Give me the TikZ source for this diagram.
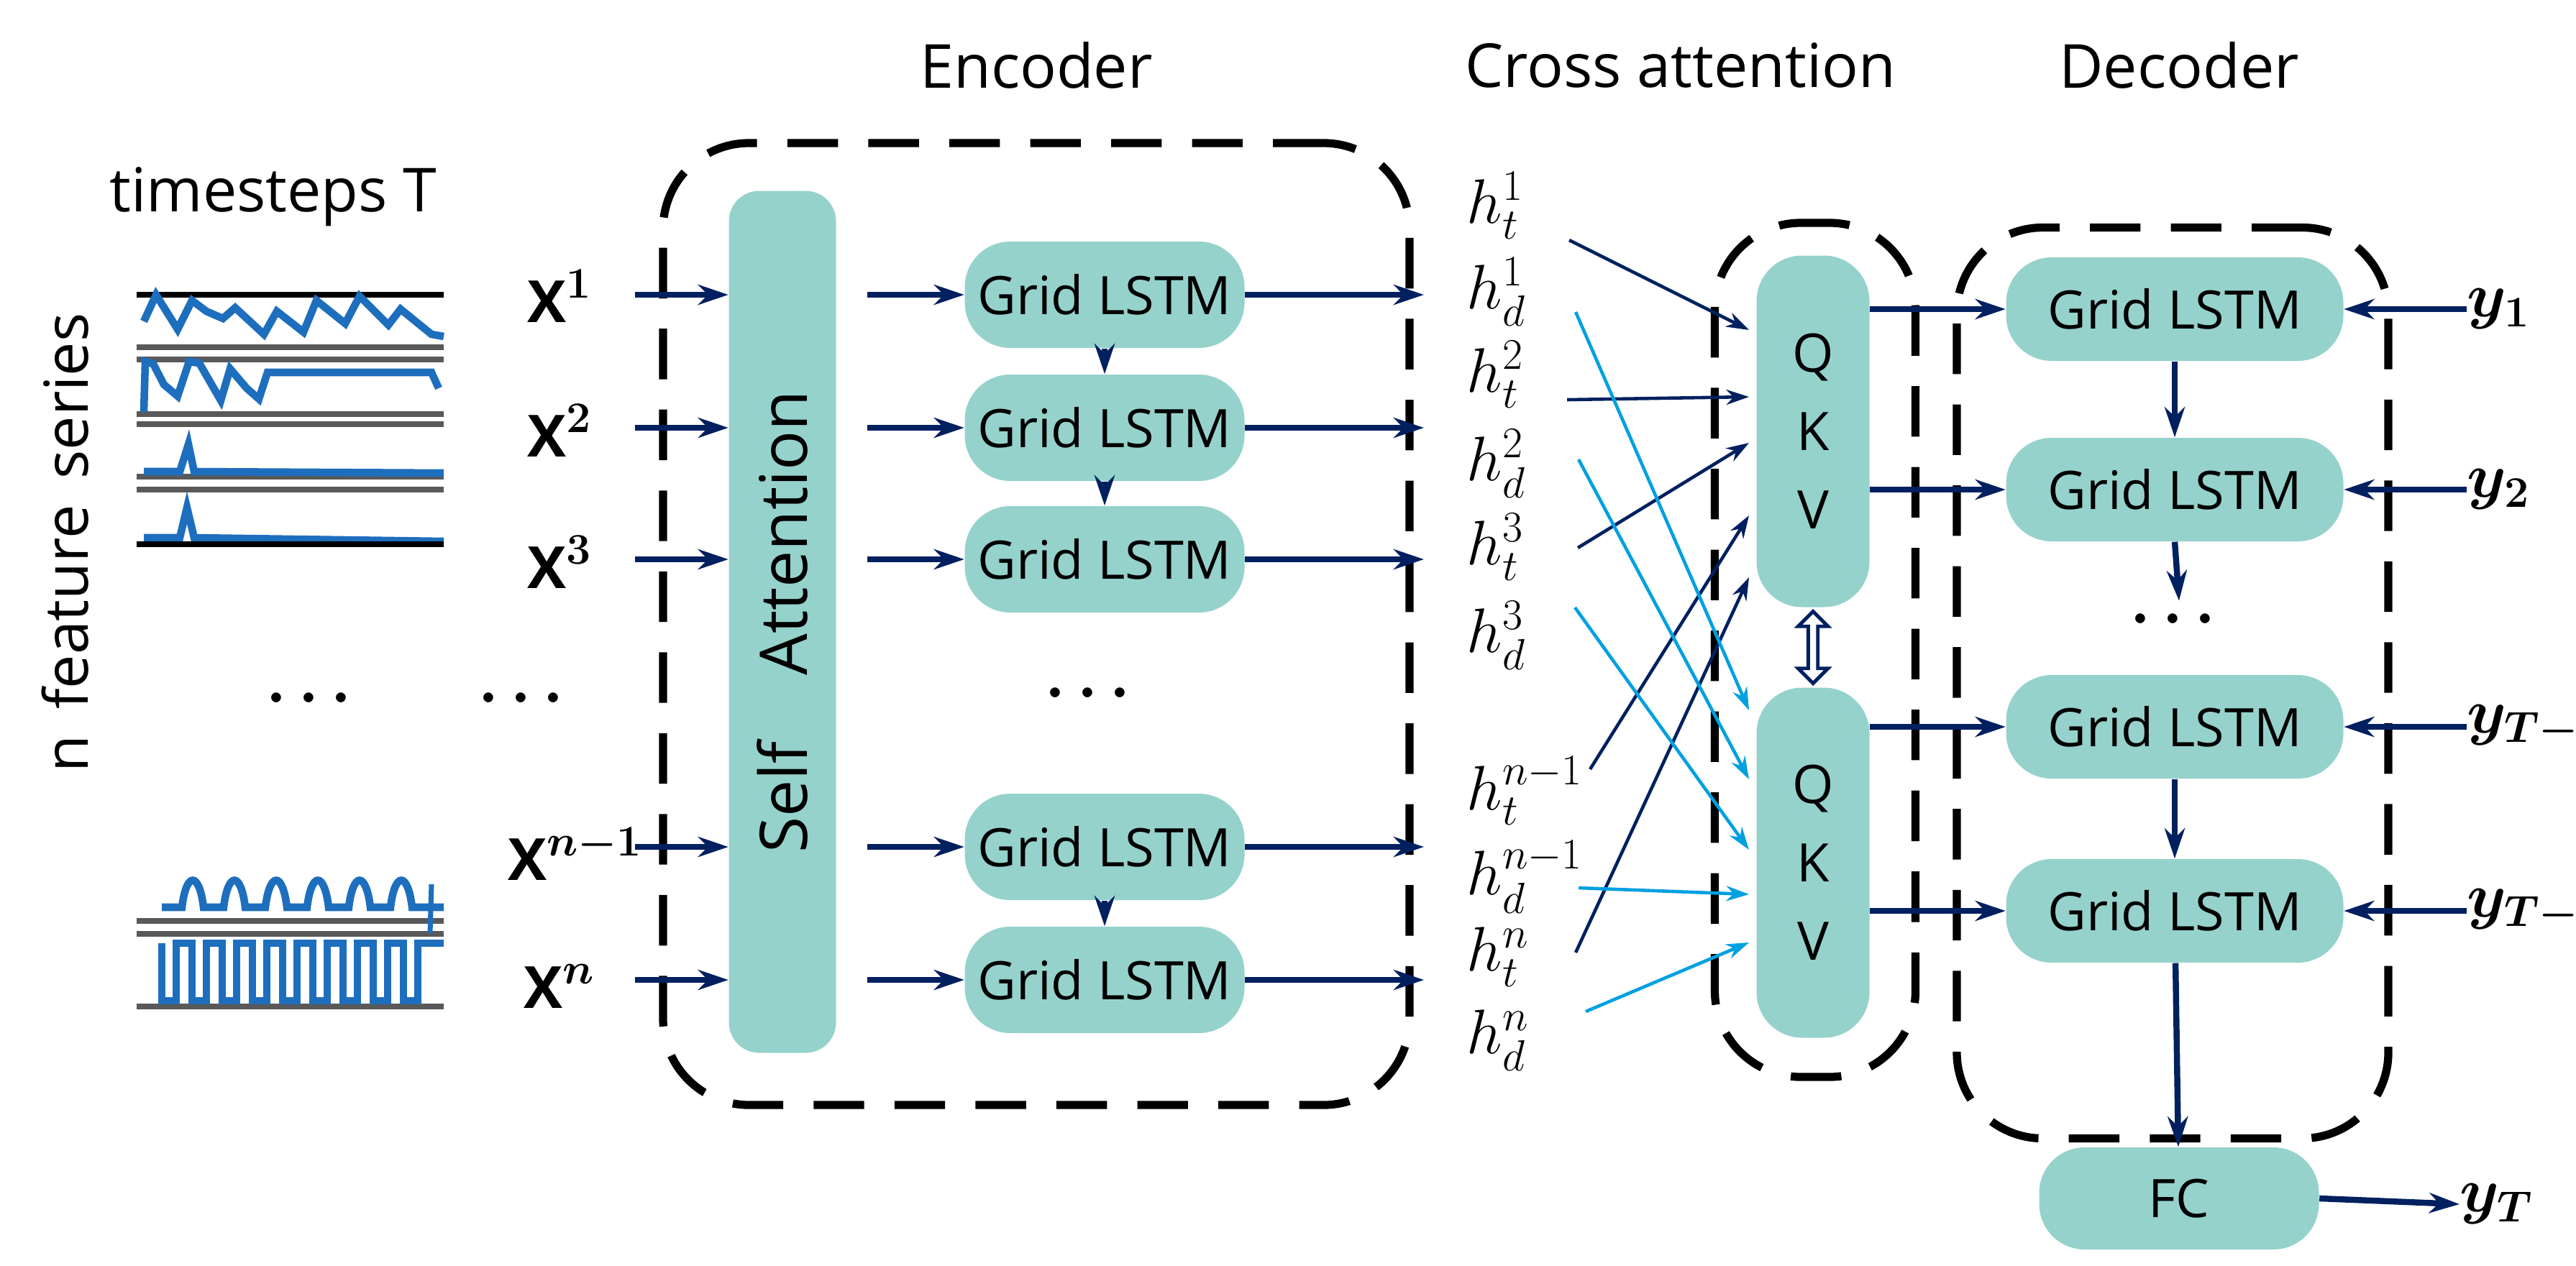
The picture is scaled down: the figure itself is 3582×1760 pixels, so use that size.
\documentclass[tikz,border=0pt]{standalone}
\usepackage{amsmath}
\usepackage{bm}
\usepackage{fontspec}
\setmainfont{Open Sans}
\usetikzlibrary{arrows,arrows.meta,positioning,calc,shapes.arrows}
\definecolor{boxteal}{RGB}{150,210,204}
\definecolor{navyarr}{RGB}{0,32,96}
\definecolor{skyarr}{RGB}{0,160,225}
\definecolor{serblue}{RGB}{30,110,190}
\begin{document}
\begin{tikzpicture}[x=0.01cm,y=-0.01cm]
  \tikzstyle{blk}=[rectangle, fill=boxteal, rounded corners=18pt, inner sep=0pt, font=\fontsize{21}{25}\selectfont, align=center]
  \tikzstyle{lstm}=[blk, minimum width=389*0.01cm, minimum height=148*0.01cm]
  \tikzstyle{frame}=[draw, line width=3.2pt, dash pattern=on 20pt off 12pt, rounded corners=34pt]
  \tikzstyle{flow}=[-{Stealth[length=12pt,width=8pt]}, navyarr, line width=2.4pt]
  \tikzstyle{thin}=[-{Stealth[length=9pt,width=6pt]}, line width=1.3pt]
  \tikzstyle{lbl}=[font=\fontsize{23}{27}\selectfont, inner sep=0pt]
  \tikzstyle{hlbl}=[font=\fontsize{23}{27}\selectfont, anchor=west, inner sep=0pt]
  \useasboundingbox (0,0) rectangle (3582,1760);

  % titles
  \node[lbl] (tenc) at (1441,91) {\fontsize{24}{28}\selectfont Encoder};
  \node[lbl] (tcross) at (2337,91) {\fontsize{24}{28}\selectfont Cross attention};
  \node[lbl] (tdec) at (3030,91) {\fontsize{24}{28}\selectfont Decoder};
  \node[lbl] (tsteps) at (380,274) {\fontsize{24}{28}\selectfont timesteps T};
  \node[lbl, rotate=90] (tfeat) at (91,755) {\fontsize{24}{28}\selectfont n\, feature\, series};

  % feature series sketches
  \draw[line width=2pt] (190,410) -- (617,410);
  \draw[serblue, line width=3pt] (200,447) -- (217,410) -- (247,458) -- (267,418) -- (287,433) -- (310,443) -- (327,428) -- (367,465) -- (385,433) -- (422,462) -- (440,418) -- (480,450) -- (500,412) -- (540,452) -- (557,430) -- (600,465) -- (617,468);
  \foreach \yy in {483,500,576,590,663,681} \draw[gray!70!black, line width=2.5pt] (190,\yy) -- (617,\yy);
  \draw[serblue, line width=3pt] (200,573) -- (202,503) -- (213,506) -- (228,535) -- (247,551) -- (263,503) -- (277,505) -- (307,557) -- (320,513) -- (343,540) -- (360,555) -- (372,518) -- (600,518) -- (610,540);
  \draw[serblue, line width=3pt] (200,656) -- (250,656) -- (262,618) -- (270,656) -- (617,658);
  \draw[serblue, line width=3pt] (200,748) -- (250,748) -- (260,706) -- (270,748) -- (617,753);
  \draw[line width=2.5pt] (190,757) -- (617,757);
  \draw[serblue, line width=3pt] (225,1262) foreach \k in {0,1,2,3,4,5} {-- ++(28,0) .. controls ++(6,-50) and ++(-6,-50) .. ++(30,0)} -- (617,1262);
  \foreach \yy in {1281,1299,1400} \draw[gray!70!black, line width=2.5pt] (190,\yy) -- (617,\yy);
  \draw[serblue, line width=2pt] (598,1298) -- (600,1230);
  \draw[serblue, line width=3pt] (225,1312) foreach \k in {0,1,2,3,4,5,6,7,8} {-- ++(0,80) -- ++(20,0) -- ++(0,-80) -- ++(22,0)} -- (617,1312);

  % input labels
  \node[lbl] (x1) at (778,412) {$\bm{\mathrm{X}}^{\bm{1}}$};
  \node[lbl] (x2) at (778,599) {$\bm{\mathrm{X}}^{\bm{2}}$};
  \node[lbl] (x3) at (778,782) {$\bm{\mathrm{X}}^{\bm{3}}$};
  \node[lbl] (xd) at (733,972) {$\bm{\cdots}$};
  \node[lbl] (sd) at (438,972) {$\bm{\cdots}$};
  \node[lbl] (xn1) at (800,1188) {$\bm{\mathrm{X}}^{\bm{n-1}}$};
  \node[lbl] (xn) at (778,1372) {$\bm{\mathrm{X}}^{\bm{n}}$};

  % encoder
  \node[frame, minimum width=1038*0.01cm, minimum height=1338*0.01cm] (encbox) at (1441,868) {};
  \node[blk, minimum width=149*0.01cm, minimum height=1199*0.01cm, rounded corners=12pt] (self) at (1088,865) {};
  \node[lbl, rotate=90] (selftxt) at (self) {\fontsize{26}{30}\selectfont Self\quad Attention};
  \node[lstm] (e1) at (1536,410) {Grid LSTM};
  \node[lstm] (e2) at (1536,595) {Grid LSTM};
  \node[lstm] (e3) at (1536,778) {Grid LSTM};
  \node[lbl] (edots) at (1521,965) {$\bm{\cdots}$};
  \node[lstm] (e4) at (1536,1178) {Grid LSTM};
  \node[lstm] (e5) at (1536,1363) {Grid LSTM};
  \foreach \a/\b in {x1/e1,x2/e2,x3/e3,xn1/e4,xn/e5} {
    \coordinate (i\b) at ($(self.west|-\b)+(-130,0)$);
    \coordinate (o\b) at ($(self.east|-\b)+(43,0)$);
    \draw[flow] (i\b) -- (self.west|-\b);
    \draw[flow] (o\b) -- (\b.west);
  }
  \draw[flow] (e1) -- (e2);
  \draw[flow] (e2) -- (e3);
  \draw[flow] (e4) -- (e5);

  % hidden states
  \node[hlbl] (ht1) at (2039,286) {$h_t^1$};
  \node[hlbl] (hd1) at (2039,406) {$h_d^1$};
  \node[hlbl] (ht2) at (2039,521) {$h_t^2$};
  \node[hlbl] (hd2) at (2039,645) {$h_d^2$};
  \node[hlbl] (ht3) at (2039,761) {$h_t^3$};
  \node[hlbl] (hd3) at (2039,884) {$h_d^3$};
  \node[hlbl] (htn1) at (2039,1100) {$h_t^{n-1}$};
  \node[hlbl] (hdn1) at (2039,1220) {$h_d^{n-1}$};
  \node[hlbl] (htn) at (2039,1331) {$h_t^n$};
  \node[hlbl] (hdn) at (2039,1447) {$h_d^n$};
  \foreach \b/\h in {e1/hd1,e2/hd2,e3/hd3,e4/hdn1,e5/hdn} {
    \coordinate (t\b) at (1980,0|-\b);
    \draw[flow] (\b.east) -- (t\b);
  }

  % cross attention
  \node[frame, minimum width=279*0.01cm, minimum height=1188*0.01cm] (crossbox) at (2524,904) {};
  \node[blk, minimum width=157*0.01cm, minimum height=489*0.01cm] (qkv1) at (2521,600) {Q\\[6pt]K\\[6pt]V};
  \node[blk, minimum width=157*0.01cm, minimum height=487*0.01cm] (qkv2) at (2521,1200) {Q\\[6pt]K\\[6pt]V};
  \node[double arrow, draw=navyarr, fill=white, line width=1.4pt, rotate=90, minimum height=100*0.01cm, minimum width=40*0.01cm, double arrow head extend=4pt, inner sep=1.2pt] (link) at ($(qkv1.south)!0.5!(qkv2.north)$) {};
  \coordinate (s1) at (2182,334);  \coordinate (d1) at (2432,459);
  \coordinate (s2) at (2191,434);  \coordinate (d2) at (2432,988);
  \coordinate (s3) at (2179,556);  \coordinate (d3) at (2432,552);
  \coordinate (s4) at (2195,639);  \coordinate (d4) at (2432,1084);
  \coordinate (s5) at (2194,762);  \coordinate (d5) at (2432,616);
  \coordinate (s6) at (2190,845);  \coordinate (d6) at (2432,1182);
  \coordinate (s7) at (2211,1070); \coordinate (d7) at (2432,717);
  \coordinate (s8) at (2195,1235); \coordinate (d8) at (2432,1244);
  \coordinate (s9) at (2191,1325); \coordinate (d9) at (2432,803);
  \coordinate (s10) at (2205,1407); \coordinate (d10) at (2432,1311);
  \foreach \k in {1,3,5,7,9} \draw[thin, navyarr] (s\k) -- (d\k);
  \foreach \k in {2,4,6,8,10} \draw[thin, skyarr] (s\k) -- (d\k);

  % decoder
  \node[frame, minimum width=600*0.01cm, minimum height=1267*0.01cm] (decbox) at (3021,950) {};
  \node[lstm, minimum width=469*0.01cm, minimum height=144*0.01cm] (d1n) at (3024,430) {Grid LSTM};
  \node[lstm, minimum width=469*0.01cm, minimum height=144*0.01cm] (d2n) at (3024,681) {Grid LSTM};
  \node[lbl] (ddots) at (3030,862) {$\bm{\cdots}$};
  \node[lstm, minimum width=469*0.01cm, minimum height=144*0.01cm] (d3n) at (3024,1011) {Grid LSTM};
  \node[lstm, minimum width=469*0.01cm, minimum height=144*0.01cm] (d4n) at (3024,1267) {Grid LSTM};
  \node[lstm, minimum width=389*0.01cm, minimum height=142*0.01cm] (fc) at (3030,1667) {FC};
  \draw[flow] (qkv1.east|-d1n) -- (d1n.west);
  \draw[flow] (qkv1.east|-d2n) -- (d2n.west);
  \draw[flow] (qkv2.east|-d3n) -- (d3n.west);
  \draw[flow] (qkv2.east|-d4n) -- (d4n.west);
  \draw[flow] (d1n) -- (d2n);
  \draw[flow] (d2n.south) -- ($(ddots.north)+(0,-5)$);
  \draw[flow] (d3n) -- (d4n);
  \draw[flow] (d4n) -- (fc);

  % targets
  \node[lbl, anchor=west] (y1) at (3430,430) {$\bm{y_1}$};
  \node[lbl, anchor=west] (y2) at (3430,681) {$\bm{y_2}$};
  \node[lbl, anchor=west] (yt2) at (3430,1011) {$\bm{y_{T-2}}$};
  \node[lbl, anchor=west] (yt1) at (3430,1267) {$\bm{y_{T-1}}$};
  \node[lbl, anchor=west] (yt) at (3420,1675) {$\bm{y_T}$};
  \foreach \y/\d in {y1/d1n,y2/d2n,yt2/d3n,yt1/d4n} \draw[flow] (\y.west) -- (\d.east);
  \draw[flow] (fc.east) -- (yt.west);
\end{tikzpicture}
\end{document}
